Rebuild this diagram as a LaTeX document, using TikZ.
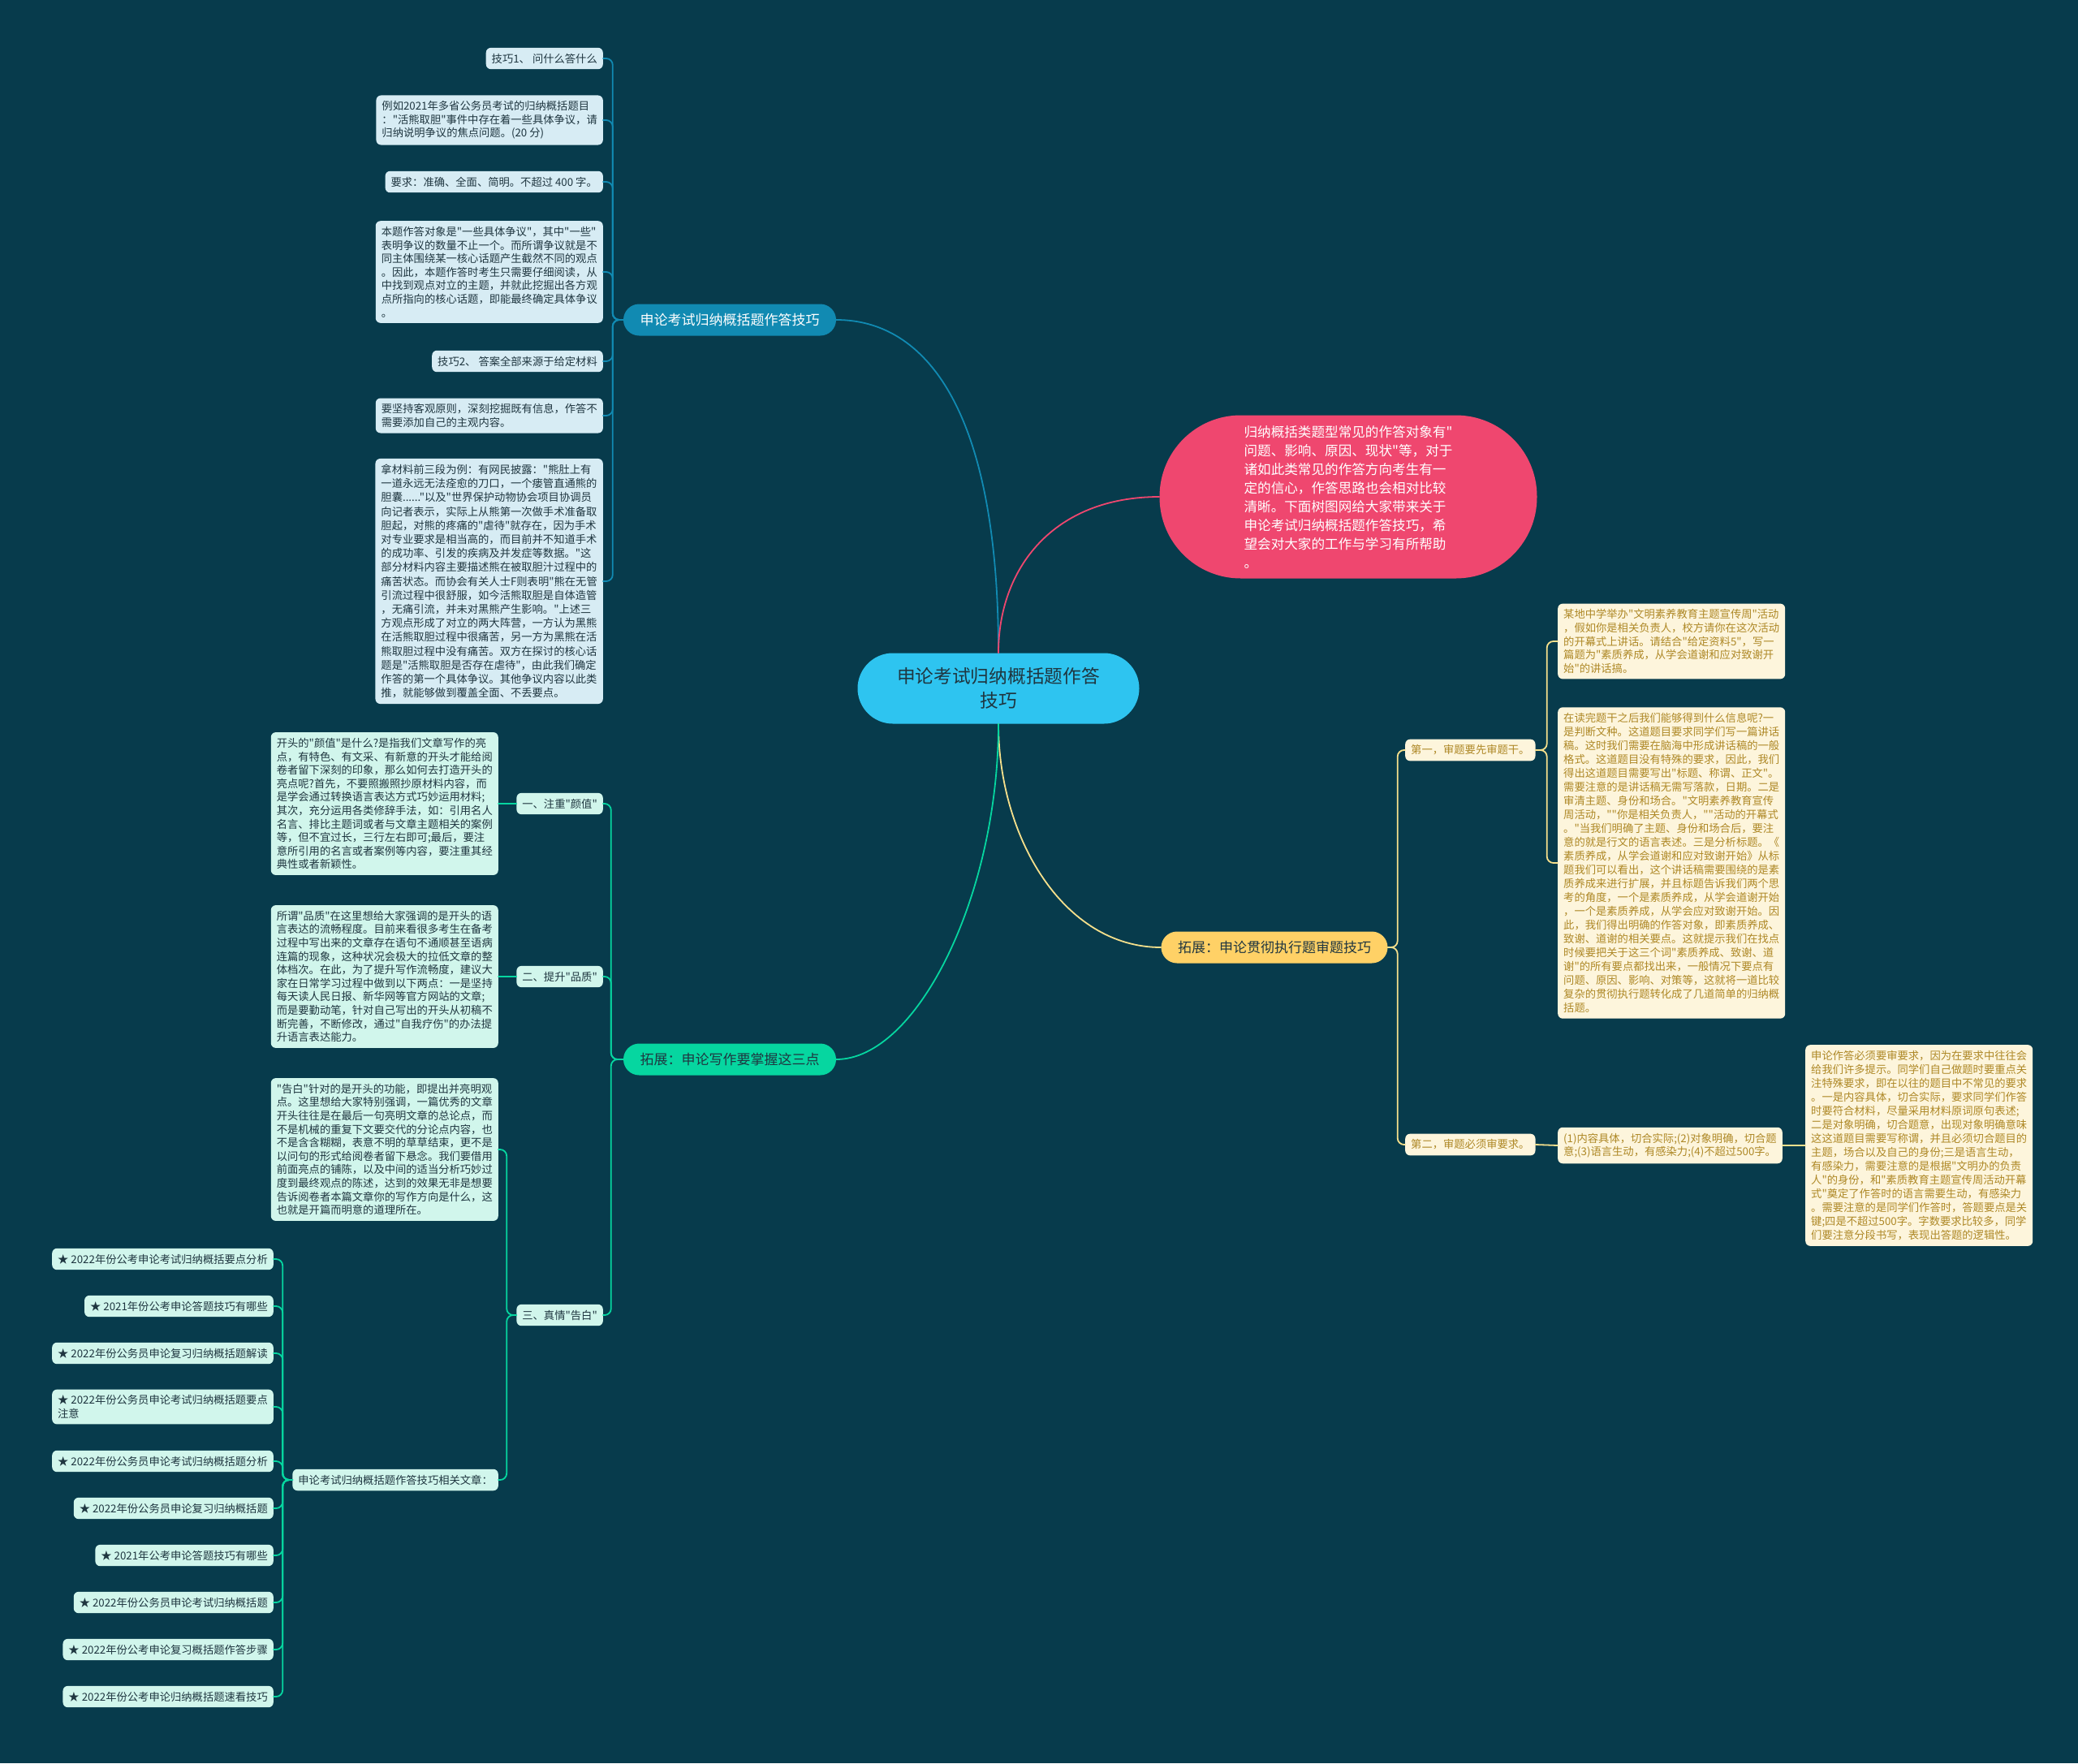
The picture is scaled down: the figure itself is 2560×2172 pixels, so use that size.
\documentclass[tikz,border=0pt]{standalone}
\usepackage{fontspec}
\setmainfont{Noto Sans CJK SC}[Ligatures=TeXOff]
\usepackage{tikz}
\definecolor{bgdark}{HTML}{073B4C}
\definecolor{ctrfill}{HTML}{2EC4F0}
\definecolor{bluemain}{HTML}{118AB2}
\definecolor{redmain}{HTML}{EF476F}
\definecolor{yellowmain}{HTML}{FFD166}
\definecolor{greenmain}{HTML}{06D6A0}
\definecolor{bluepale}{HTML}{D7ECF4}
\definecolor{greenpale}{HTML}{D1F6EC}
\definecolor{yellowpale}{HTML}{FDF5DC}
\definecolor{yellowtext}{HTML}{AE8826}
\definecolor{yellowline}{HTML}{F6E08C}
\definecolor{darktext}{HTML}{1F3640}

\begin{document}
\begin{tikzpicture}[x=1pt,y=-1pt,line cap=round,
  leaf/.style={rounded corners=6,inner xsep=7,inner ysep=7,align=left,
    font=\fontsize{13.3}{16.6}\selectfont,text=darktext},
  bleaf/.style={leaf,fill=bluepale},
  gleaf/.style={leaf,fill=greenpale},
  yleaf/.style={leaf,fill=yellowpale,text=yellowtext},
  branch/.style={rounded corners=19.5,minimum height=39,inner sep=0,
    font=\fontsize{17}{20}\selectfont},
  bline/.style={draw=bluemain,line width=1.8,rounded corners=8},
  gline/.style={draw=greenmain,line width=1.8,rounded corners=8},
  yline/.style={draw=yellowline,line width=1.8,rounded corners=8}]
\fill[bgdark] (0,0) rectangle (2560,2172);

% centre and main branches
\node[fill=ctrfill,rounded corners=43.5,minimum width=347,minimum height=87,align=center,
  text=darktext,font=\fontsize{22.7}{29.5}\selectfont] (ctr) at (1230,848)
  {申论考试归纳概括题作答\\技巧};
\node[branch,fill=bluemain,text=white,minimum width=262] (bA) at (899,394) {申论考试归纳概括题作答技巧};
\node[fill=redmain,rounded corners=100,minimum width=465,minimum height=201,align=left,
  text=white,font=\fontsize{16.6}{23}\selectfont] (intro) at (1661,612)
  {归纳概括类题型常见的作答对象有"\\问题、影响、原因、现状"等，对于\\诸如此类常见的作答方向考生有一\\定的信心，作答思路也会相对比较\\清晰。下面树图网给大家带来关于\\申论考试归纳概括题作答技巧，希\\望会对大家的工作与学习有所帮助\\。};
\node[branch,fill=yellowmain,text=darktext,minimum width=279] (yb) at (1570,1167) {拓展：申论贯彻执行题审题技巧};
\node[branch,fill=greenmain,text=darktext,minimum width=262] (gb) at (899,1305) {拓展：申论写作要掌握这三点};

\draw[bluemain,line width=1.8] (ctr.north) .. controls +(0,-300) and +(110,0) .. (bA.east);
\draw[redmain,line width=1.8] (ctr.north) .. controls +(0,-105) and +(-130,0) .. (intro.west);
\draw[yellowline,line width=1.8] (ctr.south) .. controls +(0,140) and +(-120,0) .. (yb.west);
\draw[greenmain,line width=1.8] (ctr.south) .. controls +(0,210) and +(100,0) .. (gb.east);

% blue branch
\node[bleaf,anchor=east] (bl1) at (743,72) {技巧1、 问什么答什么};
\node[bleaf,anchor=east] (bl2) at (743,148) {例如2021年多省公务员考试的归纳概括题目\\："活熊取胆"事件中存在着一些具体争议，请\\归纳说明争议的焦点问题。(20 分)};
\node[bleaf,anchor=east] (bl3) at (743,224) {要求：准确、全面、简明。不超过 400 字。};
\node[bleaf,anchor=east] (bl4) at (743,335) {本题作答对象是"一些具体争议"，其中"一些"\\表明争议的数量不止一个。而所谓争议就是不\\同主体围绕某一核心话题产生截然不同的观点\\。因此，本题作答时考生只需要仔细阅读，从\\中找到观点对立的主题，并就此挖掘出各方观\\点所指向的核心话题，即能最终确定具体争议\\。};
\node[bleaf,anchor=east] (bl5) at (743,445) {技巧2、 答案全部来源于给定材料};
\node[bleaf,anchor=east] (bl6) at (743,512) {要坚持客观原则，深刻挖掘既有信息，作答不\\需要添加自己的主观内容。};
\node[bleaf,anchor=east,font=\fontsize{13.3}{17.2}\selectfont] (bl7) at (743,716) {拿材料前三段为例：有网民披露："熊肚上有\\一道永远无法痊愈的刀口，一个瘘管直通熊的\\胆囊......"以及"世界保护动物协会项目协调员\\向记者表示，实际上从熊第一次做手术准备取\\胆起，对熊的疼痛的"虐待"就存在，因为手术\\对专业要求是相当高的，而目前并不知道手术\\的成功率、引发的疾病及并发症等数据。"这\\部分材料内容主要描述熊在被取胆汁过程中的\\痛苦状态。而协会有关人士F则表明"熊在无管\\引流过程中很舒服，如今活熊取胆是自体造管\\，无痛引流，并未对黑熊产生影响。"上述三\\方观点形成了对立的两大阵营，一方认为黑熊\\在活熊取胆过程中很痛苦，另一方为黑熊在活\\熊取胆过程中没有痛苦。双方在探讨的核心话\\题是"活熊取胆是否存在虐待"，由此我们确定\\作答的第一个具体争议。其他争议内容以此类\\推，就能够做到覆盖全面、不丢要点。};
\foreach \n in {1,...,7}
  \draw[bline] (bA.west) -- ++(-13,0) |- (bl\n.east);

% green branch
\node[gleaf,anchor=east] (g1) at (743,990) {一、注重"颜值"};
\node[gleaf,anchor=east] (g2) at (743,1203) {二、提升"品质"};
\node[gleaf,anchor=east] (g3) at (743,1620) {三、真情"告白"};
\node[gleaf,anchor=east] (gt1) at (614,990) {开头的"颜值"是什么?是指我们文章写作的亮\\点，有特色、有文采、有新意的开头才能给阅\\卷者留下深刻的印象，那么如何去打造开头的\\亮点呢?首先，不要照搬照抄原材料内容，而\\是学会通过转换语言表达方式巧妙运用材料;\\其次，充分运用各类修辞手法，如：引用名人\\名言、排比主题词或者与文章主题相关的案例\\等，但不宜过长，三行左右即可;最后，要注\\意所引用的名言或者案例等内容，要注重其经\\典性或者新颖性。};
\node[gleaf,anchor=east] (gt2) at (614,1203) {所谓"品质"在这里想给大家强调的是开头的语\\言表达的流畅程度。目前来看很多考生在备考\\过程中写出来的文章存在语句不通顺甚至语病\\连篇的现象，这种状况会极大的拉低文章的整\\体档次。在此，为了提升写作流畅度，建议大\\家在日常学习过程中做到以下两点：一是坚持\\每天读人民日报、新华网等官方网站的文章;\\而是要勤动笔，针对自己写出的开头从初稿不\\断完善，不断修改，通过"自我疗伤"的办法提\\升语言表达能力。};
\node[gleaf,anchor=east] (gt3) at (614,1416) {"告白"针对的是开头的功能，即提出并亮明观\\点。这里想给大家特别强调，一篇优秀的文章\\开头往往是在最后一句亮明文章的总论点，而\\不是机械的重复下文要交代的分论点内容，也\\不是含含糊糊，表意不明的草草结束，更不是\\以问句的形式给阅卷者留下悬念。我们要借用\\前面亮点的铺陈，以及中间的适当分析巧妙过\\度到最终观点的陈述，达到的效果无非是想要\\告诉阅卷者本篇文章你的写作方向是什么，这\\也就是开篇而明意的道理所在。};
\node[gleaf,anchor=east] (rel) at (614,1823) {申论考试归纳概括题作答技巧相关文章：};
\node[gleaf,anchor=east] (a1) at (337,1551) {★ 2022年份公考申论考试归纳概括要点分析};
\node[gleaf,anchor=east] (a2) at (337,1609) {★ 2021年份公考申论答题技巧有哪些};
\node[gleaf,anchor=east] (a3) at (337,1667) {★ 2022年份公务员申论复习归纳概括题解读};
\node[gleaf,anchor=east] (a4) at (337,1733) {★ 2022年份公务员申论考试归纳概括题要点\\注意};
\node[gleaf,anchor=east] (a5) at (337,1800) {★ 2022年份公务员申论考试归纳概括题分析};
\node[gleaf,anchor=east] (a6) at (337,1858) {★ 2022年份公务员申论复习归纳概括题};
\node[gleaf,anchor=east] (a7) at (337,1916) {★ 2021年公考申论答题技巧有哪些};
\node[gleaf,anchor=east] (a8) at (337,1974) {★ 2022年份公务员申论考试归纳概括题};
\node[gleaf,anchor=east] (a9) at (337,2032) {★ 2022年份公考申论复习概括题作答步骤};
\node[gleaf,anchor=east] (a10) at (337,2090) {★ 2022年份公考申论归纳概括题速看技巧};
\foreach \n in {1,2,3}
  \draw[gline] (gb.west) -- ++(-15,0) |- (g\n.east);
\draw[gline] (g1.west) -- (gt1.east);
\draw[gline] (g2.west) -- (gt2.east);
\draw[gline] (g3.west) -- ++(-12,0) |- (gt3.east);
\draw[gline] (g3.west) -- ++(-12,0) |- (rel.east);
\foreach \n in {1,...,10}
  \draw[gline] (rel.west) -- ++(-12,0) |- (a\n.east);

% yellow branch
\node[yleaf,anchor=west] (y1) at (1731,924) {第一，审题要先审题干。};
\node[yleaf,anchor=west] (y2) at (1731,1410) {第二，审题必须审要求。};
\node[yleaf,anchor=west] (y1a) at (1919,790) {某地中学举办"文明素养教育主题宣传周"活动\\，假如你是相关负责人，校方请你在这次活动\\的开幕式上讲话。请结合"给定资料5"，写一\\篇题为"素质养成，从学会道谢和应对致谢开\\始"的讲话搞。};
\node[yleaf,anchor=west,font=\fontsize{13.3}{17}\selectfont] (y1b) at (1919,1063) {在读完题干之后我们能够得到什么信息呢?一\\是判断文种。这道题目要求同学们写一篇讲话\\稿。这时我们需要在脑海中形成讲话稿的一般\\格式。这道题目没有特殊的要求，因此，我们\\得出这道题目需要写出"标题、称谓、正文"。\\需要注意的是讲话稿无需写落款，日期。二是\\审清主题、身份和场合。"文明素养教育宣传\\周活动，""你是相关负责人，""活动的开幕式\\。"当我们明确了主题、身份和场合后，要注\\意的就是行文的语言表述。三是分析标题。《\\素质养成，从学会道谢和应对致谢开始》从标\\题我们可以看出，这个讲话稿需要围绕的是素\\质养成来进行扩展，并且标题告诉我们两个思\\考的角度，一个是素质养成，从学会道谢开始\\，一个是素质养成，从学会应对致谢开始。因\\此，我们得出明确的作答对象，即素质养成、\\致谢、道谢的相关要点。这就提示我们在找点\\时候要把关于这三个词"素质养成、致谢、道\\谢"的所有要点都找出来，一般情况下要点有\\问题、原因、影响、对策等，这就将一道比较\\复杂的贯彻执行题转化成了几道简单的归纳概\\括题。};
\node[yleaf,anchor=west] (y2a) at (1919,1411) {(1)内容具体，切合实际;(2)对象明确，切合题\\意;(3)语言生动，有感染力;(4)不超过500字。};
\node[yleaf,anchor=west,font=\fontsize{13.3}{17}\selectfont] (y2b) at (2224,1411) {申论作答必须要审要求，因为在要求中往往会\\给我们许多提示。同学们自己做题时要重点关\\注特殊要求，即在以往的题目中不常见的要求\\。一是内容具体，切合实际，要求同学们作答\\时要符合材料，尽量采用材料原词原句表述;\\二是对象明确，切合题意，出现对象明确意味\\这这道题目需要写称谓，并且必须切合题目的\\主题，场合以及自己的身份;三是语言生动，\\有感染力，需要注意的是根据"文明办的负责\\人"的身份，和"素质教育主题宣传周活动开幕\\式"奠定了作答时的语言需要生动，有感染力\\。需要注意的是同学们作答时，答题要点是关\\键;四是不超过500字。字数要求比较多，同学\\们要注意分段书写，表现出答题的逻辑性。};
\draw[yline] (yb.east) -- ++(12,0) |- (y1.west);
\draw[yline] (yb.east) -- ++(12,0) |- (y2.west);
\draw[yline] (y1.east) -- ++(14,0) |- (y1a.west);
\draw[yline] (y1.east) -- ++(14,0) |- (y1b.west);
\draw[yline] (y2.east) -- (y2a.west);
\draw[yline] (y2a.east) -- (y2b.west);
\end{tikzpicture}
\end{document}
